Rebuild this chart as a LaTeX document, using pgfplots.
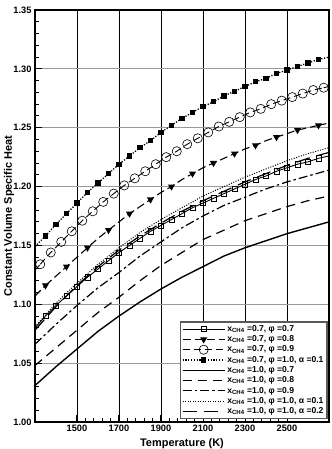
\documentclass[border=0pt]{standalone}
\usepackage{fontspec}
\setmainfont{Liberation Sans}
\usepackage{pgfplots}
\pgfplotsset{compat=1.18}
\usepackage{pgfplotstable}

% x_CH4=0.7, phi=0.7 (open squares)
\pgfplotstableread{
T Cv
1300 1.080
1350 1.090
1400 1.099
1450 1.107
1500 1.115
1550 1.123
1600 1.130
1650 1.137
1700 1.144
1750 1.150
1800 1.156
1850 1.162
1900 1.167
1950 1.172
2000 1.177
2050 1.182
2100 1.186
2150 1.190
2200 1.194
2250 1.198
2300 1.202
2350 1.206
2400 1.209
2450 1.213
2500 1.216
2550 1.219
2600 1.221
2650 1.224
2700 1.226
}\sA
% x_CH4=0.7, phi=0.8 (filled triangles)
\pgfplotstableread{
T Cv
1300 1.107
1350 1.116
1400 1.124
1450 1.132
1500 1.140
1550 1.148
1600 1.156
1650 1.163
1700 1.170
1750 1.177
1800 1.183
1850 1.189
1900 1.195
1950 1.200
2000 1.206
2050 1.211
2100 1.216
2150 1.220
2200 1.224
2250 1.228
2300 1.232
2350 1.235
2400 1.239
2450 1.242
2500 1.245
2550 1.248
2600 1.250
2650 1.252
2700 1.254
}\sB
% x_CH4=0.7, phi=0.9 (open circles)
\pgfplotstableread{
T Cv
1300 1.129
1325 1.134
1375 1.144
1425 1.153
1475 1.162
1525 1.171
1575 1.179
1625 1.187
1675 1.194
1725 1.201
1775 1.207
1825 1.213
1875 1.219
1925 1.225
1975 1.230
2025 1.236
2075 1.241
2125 1.246
2175 1.251
2225 1.255
2275 1.259
2325 1.263
2375 1.266
2425 1.270
2475 1.273
2525 1.276
2575 1.279
2625 1.282
2675 1.284
2700 1.285
}\sC
% x_CH4=0.7, phi=1.0, alpha=0.1 (filled squares)
\pgfplotstableread{
T Cv
1300 1.149
1350 1.158
1400 1.168
1450 1.177
1500 1.186
1550 1.195
1600 1.203
1650 1.211
1700 1.219
1750 1.226
1800 1.233
1850 1.239
1900 1.246
1950 1.252
2000 1.258
2050 1.263
2100 1.268
2150 1.272
2200 1.277
2250 1.281
2300 1.285
2350 1.289
2400 1.292
2450 1.296
2500 1.299
2550 1.302
2600 1.305
2650 1.308
2700 1.310
}\sD
% x_CH4=1.0 series
\pgfplotstableread{
T    pA    pB    pC    pD    pE
1300 1.031 1.048 1.066 1.081 1.078
1400 1.047 1.063 1.083 1.101 1.098
1500 1.062 1.078 1.099 1.118 1.116
1600 1.077 1.093 1.114 1.134 1.132
1700 1.090 1.106 1.127 1.148 1.146
1800 1.102 1.120 1.141 1.161 1.158
1900 1.113 1.133 1.153 1.172 1.169
2000 1.123 1.144 1.165 1.182 1.179
2100 1.132 1.155 1.175 1.192 1.188
2200 1.141 1.163 1.184 1.200 1.196
2300 1.148 1.171 1.191 1.208 1.204
2400 1.154 1.177 1.198 1.215 1.211
2500 1.160 1.183 1.204 1.222 1.218
2600 1.165 1.188 1.209 1.228 1.224
2700 1.170 1.192 1.214 1.233 1.229
}\sE

\pgfplotsset{
  sA/.style={black, line width=0.9bp, solid},
  sB/.style={black, line width=1.1bp, dash pattern=on 8bp off 4bp},
  sC/.style={black, line width=0.9bp, dash pattern=on 7bp off 4bp},
  sD/.style={black, line width=1.3bp, dash pattern=on 1.2bp off 1.6bp},
}

\begin{document}
\begin{tikzpicture}
\useasboundingbox (-35bp,-27bp) rectangle (297bp,422bp);
\begin{axis}[
  at={(0,0)}, anchor=south west,
  scale only axis, width=294bp, height=412bp,
  xmin=1300, xmax=2700, ymin=1.00, ymax=1.35,
  xtick={1500,1700,1900,2100,2300,2500},
  ytick={1.00,1.05,1.10,1.15,1.20,1.25,1.30,1.35},
  minor x tick num=4, minor y tick num=4,
  tick pos=left, tick align=inside,
  major tick length=7bp, minor tick length=4bp,
  every tick/.style={black, line width=1bp},
  axis line style={black, line width=1.5bp},
  grid=major,
  major x grid style={black, line width=0.6bp},
  major y grid style={gray!80, line width=0.9bp},
  /pgf/number format/assume math mode=true,
  xticklabel style={font=\bfseries\fontsize{9.3}{10}\selectfont, /pgf/number format/1000 sep={}},
  yticklabel style={font=\bfseries\fontsize{9.3}{10}\selectfont, /pgf/number format/fixed, /pgf/number format/fixed zerofill, /pgf/number format/precision=2},
  xlabel={Temperature (K)},
  ylabel={Constant Volume Specific Heat},
  label style={font=\bfseries\fontsize{11}{12}\selectfont},
  xlabel style={at={(axis description cs:0.5,-0.052)}, anchor=center},
  ylabel style={at={(axis description cs:-0.088,0.5)}, anchor=center},
  legend image code/.code={\draw[mark repeat=2,mark phase=2,#1] plot coordinates {(0bp,0bp) (21bp,0bp) (42bp,0bp)};},
  legend style={at={(0.995,0.007)}, anchor=south east, draw=gray!70!black, line width=1.2bp, fill=white,
    font=\bfseries\fontsize{8.6}{9}\selectfont, row sep=-1.2bp, inner sep=1.5bp},
  legend cell align=left,
]
% x_CH4=0.7, phi=0.7
\addplot[sA, forget plot, restrict x to domain=1290:1360] table[x=T,y=Cv] {\sA};
\addplot[sA, forget plot, restrict x to domain=2640:2710] table[x=T,y=Cv] {\sA};
\addplot[sA, mark=square, mark size=2.6bp, mark options={solid, line width=0.6bp}, restrict x to domain=1340:2660] table[x=T,y=Cv] {\sA};
\addlegendentry{x\textsubscript{CH4} =0.7, φ =0.7}
% x_CH4=0.7, phi=0.8
\addplot[sB, forget plot, restrict x to domain=1290:1360] table[x=T,y=Cv] {\sB};
\addplot[sB, forget plot, restrict x to domain=2640:2710] table[x=T,y=Cv] {\sB};
\addplot[sB, mark=triangle*, mark repeat=2, mark size=3bp, mark options={solid, rotate=180}, restrict x to domain=1340:2660] table[x=T,y=Cv] {\sB};
\addlegendentry{x\textsubscript{CH4} =0.7, φ =0.8}
% x_CH4=0.7, phi=0.9
\addplot[sC, forget plot, restrict x to domain=1290:1330] table[x=T,y=Cv] {\sC};
\addplot[sC, forget plot, restrict x to domain=2670:2710] table[x=T,y=Cv] {\sC};
\addplot[sC, mark=o, mark size=4.6bp, mark options={solid, line width=0.6bp}, restrict x to domain=1310:2690] table[x=T,y=Cv] {\sC};
\addlegendentry{x\textsubscript{CH4} =0.7, φ =0.9}
% x_CH4=0.7, phi=1.0, alpha=0.1
\addplot[sD, forget plot, restrict x to domain=1290:1360] table[x=T,y=Cv] {\sD};
\addplot[sD, forget plot, restrict x to domain=2640:2710] table[x=T,y=Cv] {\sD};
\addplot[sD, mark=square*, mark size=2.0bp, mark options={solid}, restrict x to domain=1340:2660] table[x=T,y=Cv] {\sD};
\addlegendentry{x\textsubscript{CH4} =0.7, φ =1.0, α =0.1}
% x_CH4=1.0 series
\addplot[black, line width=1.4bp, solid] table[x=T,y=pA] {\sE};
\addlegendentry{x\textsubscript{CH4} =1.0, φ =0.7}
\addplot[black, line width=1.2bp, dash pattern=on 9bp off 6bp] table[x=T,y=pB] {\sE};
\addlegendentry{x\textsubscript{CH4} =1.0, φ =0.8}
\addplot[black, line width=1.2bp, dash pattern=on 9bp off 3bp on 2.5bp off 3bp] table[x=T,y=pC] {\sE};
\addlegendentry{x\textsubscript{CH4} =1.0, φ =0.9}
\addplot[black, line width=1bp, dash pattern=on 1bp off 1.5bp] table[x=T,y=pD] {\sE};
\addlegendentry{x\textsubscript{CH4} =1.0, φ =1.0, α =0.1}
\addplot[black, line width=1.2bp, dash pattern=on 14bp off 7bp] table[x=T,y=pE] {\sE};
\addlegendentry{x\textsubscript{CH4} =1.0, φ =1.0, α =0.2}
\end{axis}
\end{tikzpicture}
\end{document}
